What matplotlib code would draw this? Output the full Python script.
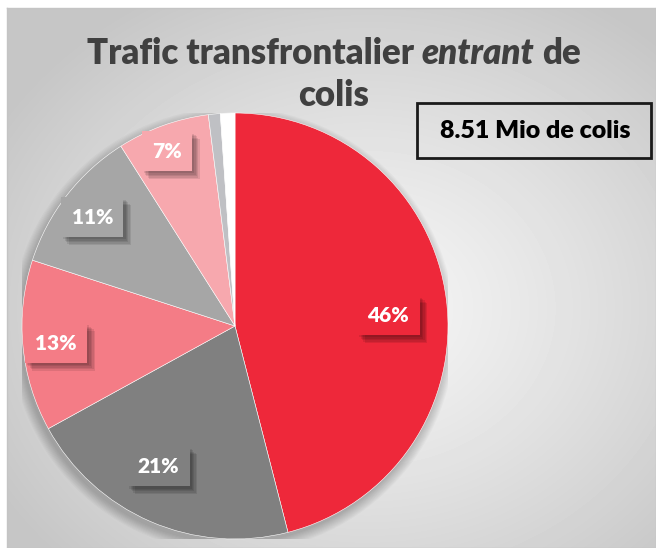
import numpy as np
import matplotlib.pyplot as plt
from matplotlib import patheffects as pe
from matplotlib.patches import Rectangle, Circle

plt.rcParams['font.family'] = ['Lato', 'DejaVu Sans']

# data (clockwise from 12 o'clock)
shares = [46, 21, 13, 11, 7, 0.9, 1.1]
labels = ['46%', '21%', '13%', '11%', '7%', '', '']
colors = ['#EE283A', '#808080', '#F47C86', '#A6A6A6', '#F7A8AE', '#BFC0C4', '#FFFFFF']
label_pos = [(0.72, 0.05), (-0.36, -0.66), (-0.84, -0.08), (-0.67, 0.51), (-0.32, 0.82)]
title_words = [('Trafic transfrontalier', 'normal'), ('entrant', 'italic'), ('de', 'normal')]
title_line2 = 'colis'
total_text = '8.51 Mio de colis'

W, H = 656, 548
fig = plt.figure(figsize=(W / 100, H / 100), dpi=100, facecolor='white')

# gradient background of the chart area
bx, by = 7, 8
bg = fig.add_axes([bx / W, 0, 1 - bx / W, (H - by) / H])
bw, bh = W - bx, H - by
yy, xx = np.mgrid[0:bh, 0:bw]
d = np.sqrt(((xx - 360) / 430) ** 2 + ((yy - 300) / 360) ** 2)
shade = 0.965 - 0.19 * np.clip(d, 0, 1) ** 1.2
bg.imshow(shade, cmap='gray', vmin=0, vmax=1, aspect='auto', interpolation='bilinear')
bg.set_xticks([])
bg.set_yticks([])
for s in bg.spines.values():
    s.set_color('#c4c4c4')
    s.set_linewidth(1)

# pie
cx, cy, r = 235, 326, 213
ax = fig.add_axes([(cx - r) / W, (H - cy - r) / H, 2 * r / W, 2 * r / H])
for k in range(10):
    ax.add_patch(Circle((-0.01, -0.02), 1 + 0.005 * k, color='black', alpha=0.025, lw=0, zorder=0))
wedges, _ = ax.pie(shares, colors=colors, startangle=90, counterclock=False, radius=1,
                   wedgeprops=dict(edgecolor='white', linewidth=0.4))
ax.set_xlim(-1, 1)
ax.set_ylim(-1, 1)
ax.axis('off')

# soft drop shadow for the label boxes
shadow = [pe.SimplePatchShadow(offset=(o, -o), shadow_rgbFace='black', alpha=0.09)
          for o in (1.5, 2.5, 3.5, 4.5, 5.5)]
for (x, y), lab, col in zip(label_pos, labels, colors):
    t = ax.text(x, y, lab, ha='center', va='center', color='white', fontsize=15,
                fontweight='heavy', zorder=5,
                bbox=dict(boxstyle='square,pad=0.5', fc=col, ec='none'))
    t.get_bbox_patch().set_path_effects(shadow + [pe.Normal()])

# title with italic word
renderer = fig.canvas.get_renderer()
tkw = dict(fontsize=25, fontweight='heavy', color='#404040', va='baseline')
probe1 = fig.text(0, 0, 'x x', **tkw)
probe2 = fig.text(0, 0, 'xx', **tkw)
space = probe1.get_window_extent(renderer).width - probe2.get_window_extent(renderer).width
probe1.remove()
probe2.remove()
pieces = [fig.text(0, 0, s, style=st, **tkw) for s, st in title_words]
widths = [p.get_window_extent(renderer).width for p in pieces]
xpos = 334 - (sum(widths) + space * (len(widths) - 1)) / 2
for p, w in zip(pieces, widths):
    p.set_position((xpos / W, 1 - 64 / H))
    xpos += w + space
fig.text(334 / W, 1 - 106 / H, title_line2, ha='center', **tkw)

# total box
fig.add_artist(Rectangle((417 / W, 1 - 158 / H), 234 / W, 55 / H, transform=fig.transFigure,
                         fill=False, ec='#1a1a1a', lw=2))
fig.text(535 / W, 1 - 131 / H, total_text, ha='center', va='center', fontsize=18,
         fontweight='heavy', color='black')

fig.savefig('out.png', dpi=100, facecolor='white')
